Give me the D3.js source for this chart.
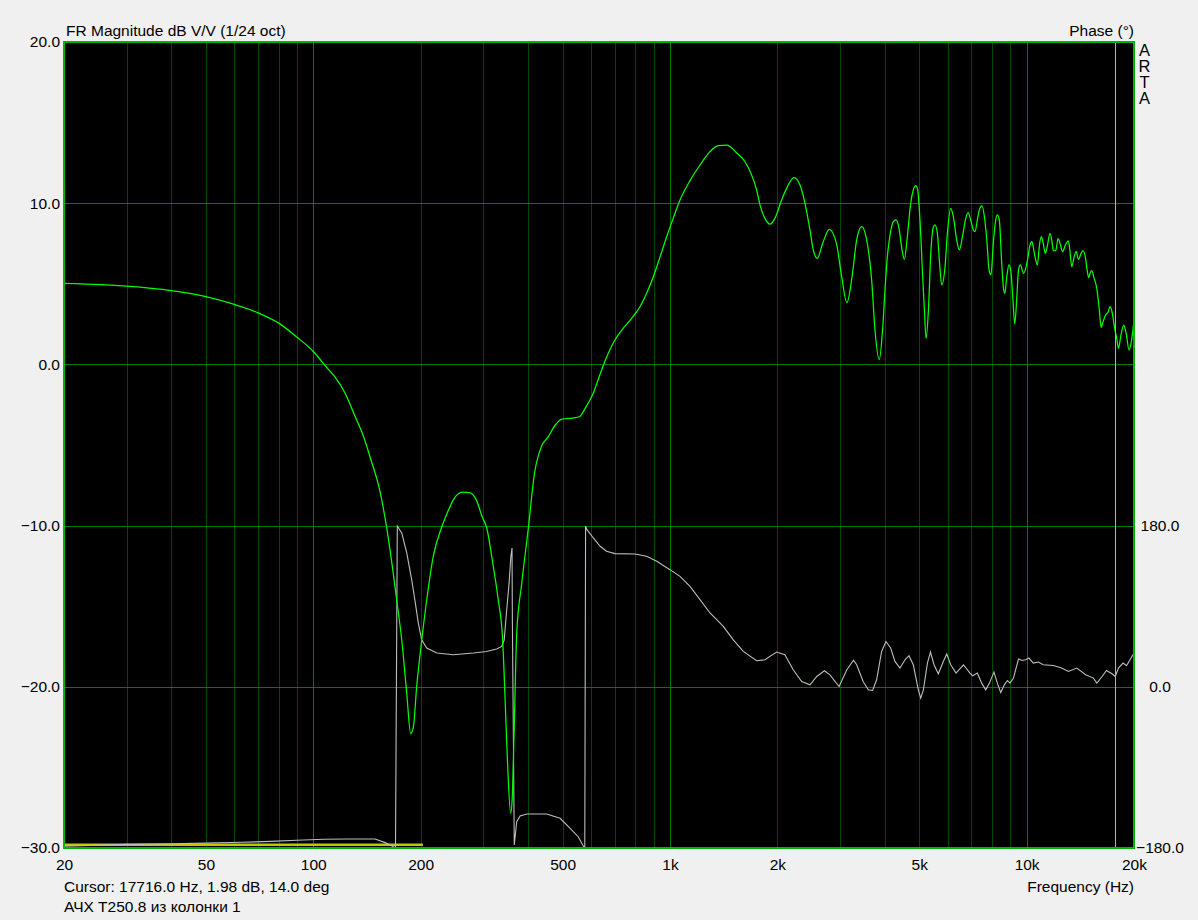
<!DOCTYPE html>
<html>
<head>
<meta charset="utf-8">
<script src="https://cdn.jsdelivr.net/npm/d3@7"></script>
<style>
  html, body { margin: 0; padding: 0; background: #f0f0f0; }
  svg { display: block; }
  text { font-family: "Liberation Sans", Arial, sans-serif; fill: #000; }
</style>
</head>
<body>
<svg id="chart" width="1198" height="920"></svg>
<script>
// ---------- DATA ----------
const xTickValues = [20, 50, 100, 200, 500, 1000, 2000, 5000, 10000, 20000];
const xTickLabels = ["20", "50", "100", "200", "500", "1k", "2k", "5k", "10k", "20k"];
const dbTickValues = [20, 10, 0, -10, -20, -30];
const phaseTickValues = [180, 0, -180];

// Magnitude (green), dB V/V
const magFreq = [20, 25.4, 30, 40, 50, 60, 70, 80, 90, 100, 108.8, 115, 123, 130, 137.4, 145.3, 153.6, 160.5, 166.6, 171.3, 177, 182.8, 187.5, 190.8, 194.9, 200.9, 208, 217, 229, 237.6, 247, 262, 274, 287, 298, 306, 319.7, 330, 339.6, 345, 350.8, 357.6, 361, 365.5, 371.8, 384, 401, 417, 436, 456, 477, 498, 533, 557, 582, 609, 634, 660, 700, 750, 790, 824, 860, 898, 938, 979, 1021, 1067, 1138, 1214, 1295, 1366, 1442, 1537, 1623, 1694, 1750, 1788, 1846, 1907, 1969, 2056, 2123, 2227, 2315, 2391, 2469, 2522, 2589, 2680, 2797, 2929, 3030, 3133, 3240, 3338, 3448, 3560, 3677, 3757, 3862, 3950, 4012, 4068, 4139, 4228, 4303, 4387, 4473, 4541, 4629, 4730, 4811, 4886, 4949, 5023, 5112, 5168, 5226, 5305, 5386, 5480, 5535, 5620, 5692, 5780, 5905, 5995, 6125, 6230, 6367, 6475, 6620, 6750, 6850, 6970, 7090, 7165, 7275, 7367, 7497, 7613, 7734, 7846, 7944, 8064, 8191, 8278, 8382, 8514, 8603, 8683, 8798, 8923, 9023, 9142, 9264, 9387, 9490, 9600, 9798, 9940, 10090, 10220, 10350, 10490, 10600, 10720, 10850, 10990, 11130, 11280, 11420, 11628, 11780, 11880, 12070, 12250, 12404, 12620, 12840, 13090, 13231, 13380, 13590, 13770, 13980, 14210, 14400, 14630, 14800, 14930, 15055, 15220, 15460, 15660, 15800, 15990, 16170, 16380, 16640, 16930, 17130, 17390, 17620, 17890, 18090, 18390, 18720, 19020, 19370, 19690, 20000];
const magDb = [5.03, 4.95, 4.85, 4.57, 4.2, 3.72, 3.2, 2.56, 1.69, 0.8, -0.16, -0.78, -1.82, -3.06, -4.3, -5.96, -7.82, -10.1, -12.55, -14.6, -17.1, -20.4, -22.9, -22.5, -20.0, -17.3, -14.6, -11.9, -10.1, -9.2, -8.4, -7.93, -7.95, -8.45, -9.5, -10.1, -12.55, -14.6, -17.1, -20.8, -24.96, -27.85, -27.0, -22.9, -16.7, -13.6, -10.1, -6.76, -5.1, -4.48, -3.76, -3.39, -3.33, -3.25, -2.62, -1.8, -0.73, 0.3, 1.5, 2.4, 3.0, 3.58, 4.41, 5.44, 6.67, 7.92, 9.06, 10.2, 11.4, 12.37, 13.2, 13.57, 13.6, 13.13, 12.57, 11.75, 10.82, 9.9, 9.06, 8.7, 9.06, 10.2, 10.92, 11.58, 11.13, 9.99, 8.34, 7.1, 6.58, 7.51, 8.38, 7.51, 5.44, 3.83, 5.44, 7.72, 8.54, 7.72, 5.24, 2.13, 0.3, 2.3, 4.8, 6.67, 8.0, 8.85, 8.96, 8.44, 7.1, 6.52, 7.92, 9.99, 10.82, 11.09, 10.82, 8.96, 5.44, 3.37, 1.61, 3.37, 6.89, 8.54, 8.65, 8.13, 6.48, 4.93, 6.06, 8.13, 9.68, 9.16, 7.72, 7.1, 8.03, 9.06, 9.41, 8.96, 8.34, 8.23, 8.96, 9.58, 9.83, 9.16, 7.72, 5.86, 5.55, 7.51, 8.96, 9.27, 8.96, 6.27, 4.82, 4.41, 5.44, 6.17, 5.86, 4.2, 2.51, 4.2, 5.86, 6.17, 5.65, 5.96, 6.67, 7.41, 7.61, 7.0, 6.48, 6.17, 7.3, 7.92, 7.51, 6.89, 7.3, 8.13, 7.61, 7.06, 7.06, 7.82, 7.51, 6.99, 7.41, 7.67, 6.99, 6.06, 6.67, 6.99, 6.52, 6.89, 7.06, 6.58, 5.75, 5.38, 5.65, 5.81, 5.34, 4.93, 4.41, 3.37, 2.3, 2.65, 3.06, 3.27, 3.58, 3.17, 2.34, 1.62, 1.0, 1.83, 2.44, 1.92, 0.89, 1.51, 2.75];

// Phase (grey), degrees (wrapped)
const phaseFreq = [20, 30, 40, 50, 63, 76, 90, 107, 125, 149, 159, 164.5, 168, 170, 172, 177, 182.8, 188.7, 192.6, 197, 201.3, 208, 222, 247, 281, 306, 326.7, 337.5, 343, 348.6, 354, 358, 360.7, 361.6, 363.8, 366, 371.8, 380, 396.6, 451, 492, 525, 553, 573, 577, 580, 584, 609.7, 637, 664, 701, 798, 860, 918, 1000, 1067, 1138, 1214, 1295, 1411, 1505, 1605, 1750, 1846, 1990, 2100, 2216, 2340, 2469, 2580, 2710, 2809, 2980, 3133, 3270, 3338, 3480, 3597, 3700, 3797, 3921, 4032, 4157, 4273, 4415, 4560, 4679, 4811, 4970, 5046, 5135, 5270, 5375, 5500, 5655, 5840, 5970, 6125, 6340, 6650, 6937, 7060, 7275, 7480, 7680, 7863, 8100, 8278, 8460, 8660, 8835, 8982, 9185, 9490, 9713, 9939, 10150, 10440, 10790, 11130, 11880, 12540, 13090, 13830, 14630, 15390, 15740, 16280, 16740, 17350, 17720, 18090, 18640, 19060, 19490, 20000];
const phaseDeg = [-178, -176, -175.3, -174.6, -173.6, -172.6, -171.4, -170.3, -170, -170, -174, -176.6, -178.8, -179.6, 179.5, 171.8, 149.5, 119.6, 97.3, 71.2, 52.5, 43.3, 37.7, 35.8, 37.7, 39.5, 42.1, 45.1, 52.5, 86, 116, 145.7, 155, 71.2, -51.8, -176.6, -150.6, -144.2, -142, -142, -146.8, -158, -167.4, -178.5, -179.8, 179.5, 176, 166.2, 156.9, 151.3, 148.7, 148.3, 145.7, 140.1, 130.8, 123.3, 112.1, 97.3, 82.4, 67.4, 52.5, 39.5, 29.1, 30.2, 38.8, 35.8, 19, 5.9, 2.2, 11.5, 17.9, 13.4, 0.3, 19, 29.8, 24.6, 5.9, -3.4, -4.1, 7.8, 39.5, 50.6, 43.3, 28.3, 20.9, 30.2, 34.7, 24.6, -3.4, -12.6, -3.4, 26.5, 38.8, 24.6, 14.5, 28.3, 36.6, 24.6, 15.3, 24.6, 15.3, 12.3, 15.3, 4.1, -3.4, 4.1, 16.4, 4.1, -6.4, 2.2, 7.0, 4.1, 9.7, 31, 29.4, 30.2, 32.1, 26.5, 27.6, 24.6, 23.8, 20.9, 17.1, 20.9, 13.4, 9.7, 4.1, 11.5, 18.2, 14.5, 11.5, 20.9, 26.5, 23.5, 30.2, 37.7];

// Low-frequency yellow trace, dB
const lowFreq = [20, 203];
const lowDb = [-29.8, -29.8];

// Cursor
const cursorFreq = 17716;

// Texts
const titleLeft = "FR Magnitude dB V/V (1/24 oct)";
const titleRight = "Phase (°)";
const xAxisTitle = "Frequency (Hz)";
const cursorText = "Cursor: 17716.0 Hz, 1.98 dB, 14.0 deg";
const curveName = "АЧХ T250.8 из колонки 1";
const brand = ["A", "R", "T", "A"];

// ---------- DRAW ----------
const svg = d3.select("#chart");
const L = 64, R = 1134, T = 42, B = 848;
const FS = 15.5;

const x = d3.scaleLog().domain([20, 20000]).range([L, R]);
const y = d3.scaleLinear().domain([-30, 20]).range([B, T]);
const yp = d3.scaleLinear().domain([-180, 720]).range([B, T]);

svg.append("rect").attr("x", L).attr("y", T).attr("width", R - L).attr("height", B - T).attr("fill", "#000");

// vertical grid
const gridF = [];
[10, 100, 1000, 10000].forEach(d => { for (let m = 1; m <= 9; m++) { const f = m * d; if (f > 20 && f < 20000) gridF.push({ f, major: m === 1 }); } });
svg.append("g").selectAll("line").data(gridF).join("line")
  .attr("x1", d => Math.round(x(d.f)) + 0.5).attr("x2", d => Math.round(x(d.f)) + 0.5)
  .attr("y1", T).attr("y2", B)
  .attr("stroke", d => d.major ? "#007c00" : "#004800").attr("stroke-width", 1);

// horizontal grid
svg.append("g").selectAll("line").data([-20, -10, 0, 10]).join("line")
  .attr("x1", L).attr("x2", R)
  .attr("y1", d => Math.round(y(d)) + 0.5).attr("y2", d => Math.round(y(d)) + 0.5)
  .attr("stroke", "#007c00").attr("stroke-width", 1);

// low yellow trace
const lowData = lowFreq.map((f, i) => [f, lowDb[i]]);
svg.append("path").datum(lowData)
  .attr("d", d3.line().x(d => x(d[0])).y(d => y(d[1])))
  .attr("fill", "none").attr("stroke", "#c4c400").attr("stroke-width", 2.6);

// phase
const phData = phaseFreq.map((f, i) => [f, phaseDeg[i]]);
svg.append("path").datum(phData)
  .attr("d", d3.line().x(d => x(d[0])).y(d => yp(d[1])))
  .attr("fill", "none").attr("stroke", "#bdbdbd").attr("stroke-width", 1.1);

// magnitude
const magData = magFreq.map((f, i) => [f, magDb[i]]);
svg.append("path").datum(magData)
  .attr("d", d3.line().curve(d3.curveMonotoneX).x(d => x(d[0])).y(d => y(d[1])))
  .attr("fill", "none").attr("stroke", "#00ff00").attr("stroke-width", 1.25);

// cursor
svg.append("line")
  .attr("x1", Math.round(x(cursorFreq)) + 0.5).attr("x2", Math.round(x(cursorFreq)) + 0.5)
  .attr("y1", T).attr("y2", B).attr("stroke", "#c8c800").attr("stroke-width", 1);

// border
svg.append("rect").attr("x", L).attr("y", T).attr("width", R - L).attr("height", B - T)
  .attr("fill", "none").attr("stroke", "#00b400").attr("stroke-width", 2);

// axes
const xAxis = d3.axisBottom(x).tickValues(xTickValues)
  .tickFormat((d, i) => xTickLabels[i]).tickSize(0).tickPadding(11);
const gx = svg.append("g").attr("transform", `translate(0,${B})`).call(xAxis);
gx.select(".domain").remove();
gx.selectAll("text").attr("font-size", FS).attr("font-family", null).attr("fill", "#000");

const yAxis = d3.axisLeft(y).tickValues(dbTickValues).tickFormat(d3.format(".1f")).tickSize(0).tickPadding(4);
const gy = svg.append("g").attr("transform", `translate(${L},0)`).call(yAxis);
gy.select(".domain").remove();
gy.selectAll("text").attr("font-size", FS).attr("font-family", null).attr("fill", "#000");

const pAxis = d3.axisRight(yp).tickValues(phaseTickValues).tickFormat(d3.format(".1f")).tickSize(0).tickPadding(0);
const gp = svg.append("g").attr("transform", `translate(${R},0)`).call(pAxis);
gp.select(".domain").remove();
gp.selectAll("text").attr("font-size", FS).attr("font-family", null).attr("fill", "#000")
  .attr("text-anchor", "middle").attr("x", 26);

// texts
svg.append("text").attr("x", 66).attr("y", 36).attr("font-size", FS).text(titleLeft);
svg.append("text").attr("x", R).attr("y", 36).attr("font-size", FS).attr("text-anchor", "end").text(titleRight);
svg.append("text").attr("x", R).attr("y", 892).attr("font-size", FS).attr("text-anchor", "end").text(xAxisTitle);
svg.append("text").attr("x", 64).attr("y", 892).attr("font-size", FS).text(cursorText);
svg.append("text").attr("x", 64).attr("y", 912).attr("font-size", FS).text(curveName);
svg.append("g").selectAll("text").data(brand).join("text")
  .attr("x", 1144.5).attr("y", (d, i) => 56 + i * 16).attr("font-size", 16.5)
  .attr("text-anchor", "middle").text(d => d);
</script>
</body>
</html>
